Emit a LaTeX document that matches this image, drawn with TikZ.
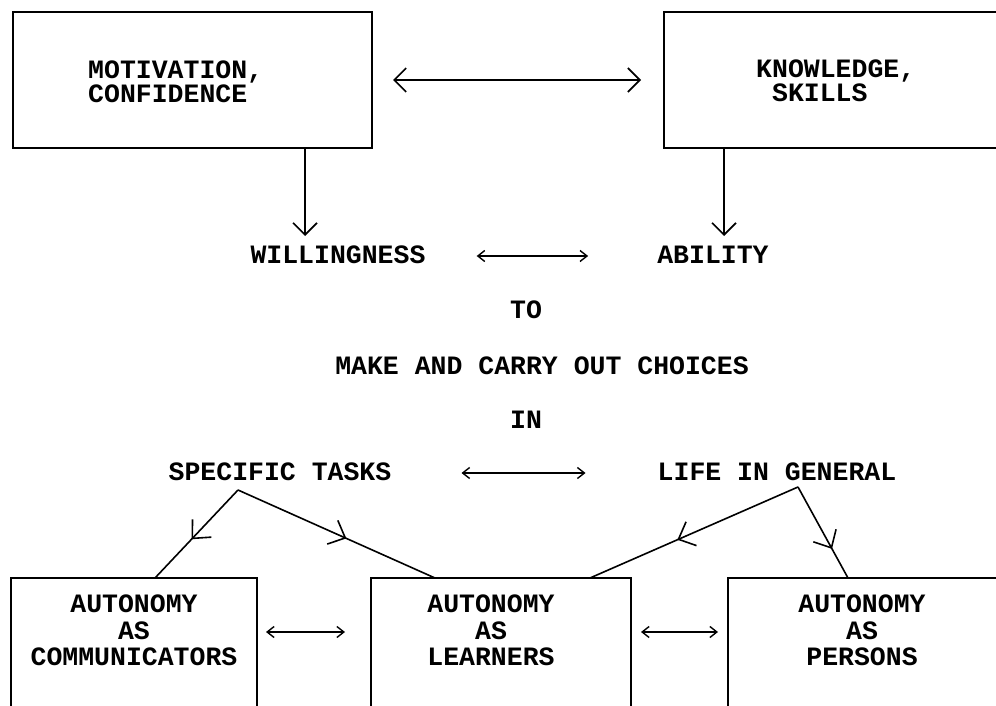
\documentclass[tikz,border=0pt]{standalone}
\usepackage{fontspec}
\setmonofont{Liberation Mono}
\usetikzlibrary{arrows.meta,decorations.markings}
\tikzset{
  bigtip/.tip={Straight Barb[length=12pt,width=24pt,line width=1.6pt]},
  midtip/.tip={Straight Barb[length=14pt,width=26pt,line width=1.6pt]},
  smalltip/.tip={Straight Barb[length=7pt,width=11pt,line width=1.4pt]},
  box/.style={draw, line width=1.8pt, inner sep=0pt, outer sep=0pt},
  lbl/.style={font=\ttfamily\bfseries\fontsize{26.5}{26.5}\selectfont, inner sep=0pt, anchor=base},
  conn/.style={line width=1.6pt},
  midarrow/.style={decoration={markings, mark=at position #1 with {\arrow{midtip}}}, postaction={decorate}},
}
\begin{document}
\begin{tikzpicture}[x=1pt,y=-1pt]
\useasboundingbox (0,0) rectangle (996,706);
\fill[white] (0,0) rectangle (996,706);
\clip (0,0) rectangle (996,706);
% boxes
\node[box, minimum width=359pt, minimum height=136pt] (b1) at (192.5,80) {};
\node[box, minimum width=346pt, minimum height=136pt] (b2) at (837,80) {};
\node[box, minimum width=246pt, minimum height=170pt] (bA) at (134,663) {};
\node[box, minimum width=260pt, minimum height=170pt] (bB) at (501,663) {};
\node[box, minimum width=276pt, minimum height=170pt] (bC) at (866,663) {};
% box texts
\node[lbl, anchor=west, align=left, font=\ttfamily\bfseries\fontsize{26.5}{24}\selectfont] (t1) at (88,82) {MOTIVATION,\\CONFIDENCE};
\node[lbl, anchor=west, align=left, font=\ttfamily\bfseries\fontsize{26.5}{24}\selectfont] (t2) at (756,81) {KNOWLEDGE,\\\phantom{K}SKILLS};
\node[lbl, align=center] (tA) at (134,665.5) {AUTONOMY\\AS\\COMMUNICATORS};
\node[lbl, align=center] (tB) at (491,665.5) {AUTONOMY\\AS\\LEARNERS};
\node[lbl, align=center] (tC) at (862,665.5) {AUTONOMY\\AS\\PERSONS};
% free texts
\node[lbl] (will) at (338,263.5) {WILLINGNESS};
\node[lbl] (abil) at (713,263.5) {ABILITY};
\node[lbl] (to) at (526,318.5) {TO};
\node[lbl] (make) at (542,374.5) {MAKE AND CARRY OUT CHOICES};
\node[lbl] (in) at (526,428.5) {IN};
\node[lbl] (spec) at (280,480.5) {SPECIFIC TASKS};
\node[lbl] (life) at (777,480.5) {LIFE IN GENERAL};
% junction points
\coordinate (d1) at (305,236);
\coordinate (d2) at (724,236);
\coordinate (js) at (238,490);
\coordinate (jl) at (798,487);
\coordinate (eA) at (155,578);
\coordinate (eB) at (435,578);
\coordinate (fB) at (590,578);
\coordinate (fC) at (848,578);
% connectors
\draw[conn, bigtip-bigtip, shorten <=21pt, shorten >=23pt] (b1.east) -- (b2.west |- b1.east);
\draw[conn, -bigtip] (b1.south -| d1) -- (d1);
\draw[conn, -bigtip] (b2.south -| d2) -- (d2);
\draw[conn, smalltip-smalltip, shorten <=51pt, shorten >=69pt] (will.east |- 0,256) -- (abil.west |- 0,256);
\draw[conn, smalltip-smalltip, shorten <=70pt, shorten >=72pt] (spec.east |- 0,473) -- (life.west |- 0,473);
\draw[conn, smalltip-smalltip, shorten <=9pt, shorten >=26pt] (bA.east |- 0,632) -- (bB.west |- 0,632);
\draw[conn, smalltip-smalltip, shorten <=10pt, shorten >=10pt] (bB.east |- 0,632) -- (bC.west |- 0,632);
\draw[conn, midarrow=0.56] (js) -- (bA.north -| eA);
\draw[conn, midarrow=0.55] (js) -- (bB.north -| eB);
\draw[conn, midarrow=0.58] (jl) -- (bB.north -| fB);
\draw[conn, midarrow=0.68] (jl) -- (bC.north -| fC);
\end{tikzpicture}
\end{document}
